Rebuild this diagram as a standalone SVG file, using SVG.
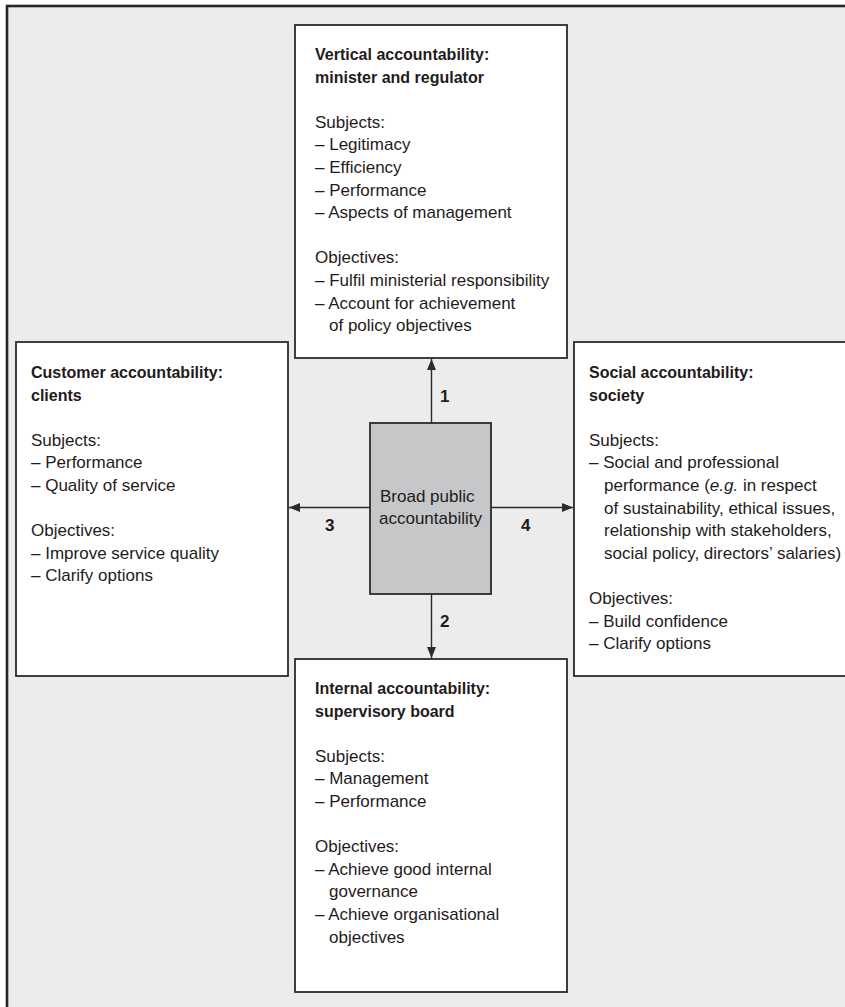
<svg xmlns="http://www.w3.org/2000/svg" width="845" height="1007" viewBox="0 0 845 1007">
<style>
.box{fill:#ffffff;stroke:#2b2b2b;stroke-width:1.8}
.core{fill:#c6c7c9;stroke:#2b2b2b;stroke-width:1.8}
.t{font-family:"Liberation Sans",Arial,sans-serif;font-size:17px;fill:#1f1b1c}
.b{font-family:"Liberation Sans",Arial,sans-serif;font-size:16px;font-weight:bold;fill:#1f1b1c}
.n{font-family:"Liberation Sans",Arial,sans-serif;font-size:17px;font-weight:bold;fill:#1f1b1c}
.c{stroke:#2b2b2b;stroke-width:1.4;fill:none;marker-end:url(#ah)}
</style>
<defs>
<marker id="ah" markerUnits="userSpaceOnUse" markerWidth="12" markerHeight="10" refX="11" refY="4.5" orient="auto">
<path d="M0,0 L11,4.5 L0,9 z" fill="#2b2b2b"/>
</marker>
</defs>
<rect x="0" y="0" width="845" height="1007" fill="#ffffff"/>
<rect x="7" y="6" width="850" height="1010" fill="#ececec" stroke="#262626" stroke-width="2.6"/>

<g id="top">
<rect class="box" x="295" y="25" width="272" height="333"/>
<text class="b" x="315" y="60">Vertical accountability:</text>
<text class="b" x="315" y="82.6">minister and regulator</text>
<text class="t" x="315" y="127.8">Subjects:</text>
<text class="t" x="315" y="150.4">– Legitimacy</text>
<text class="t" x="315" y="173">– Efficiency</text>
<text class="t" x="315" y="195.6">– Performance</text>
<text class="t" x="315" y="218.2">– Aspects of management</text>
<text class="t" x="315" y="263.4">Objectives:</text>
<text class="t" x="315" y="286">– Fulfil ministerial responsibility</text>
<text class="t" x="315" y="308.6">– Account for achievement</text>
<text class="t" x="329" y="331.2">of policy objectives</text>
</g>

<g id="left">
<rect class="box" x="16" y="342" width="272" height="334"/>
<text class="b" x="31" y="378">Customer accountability:</text>
<text class="b" x="31" y="400.6">clients</text>
<text class="t" x="31" y="445.8">Subjects:</text>
<text class="t" x="31" y="468.4">–  Performance</text>
<text class="t" x="31" y="491">– Quality of service</text>
<text class="t" x="31" y="536.2">Objectives:</text>
<text class="t" x="31" y="558.8">– Improve service quality</text>
<text class="t" x="31" y="581.4">– Clarify options</text>
</g>

<g id="right">
<rect class="box" x="574" y="342" width="290" height="334"/>
<text class="b" x="589" y="378">Social accountability:</text>
<text class="b" x="589" y="400.6">society</text>
<text class="t" x="589" y="445.8">Subjects:</text>
<text class="t" x="589" y="468.4">–  Social and professional</text>
<text class="t" x="604" y="491">performance (<tspan font-style="italic">e.g.</tspan> in respect</text>
<text class="t" x="604" y="513.6">of sustainability, ethical issues,</text>
<text class="t" x="604" y="536.2">relationship with stakeholders,</text>
<text class="t" x="604" y="558.8">social policy, directors’ salaries)</text>
<text class="t" x="589" y="604">Objectives:</text>
<text class="t" x="589" y="626.6">– Build confidence</text>
<text class="t" x="589" y="649.2">– Clarify options</text>
</g>

<g id="bottom">
<rect class="box" x="295" y="659" width="272" height="333"/>
<text class="b" x="315" y="694">Internal accountability:</text>
<text class="b" x="315" y="716.6">supervisory board</text>
<text class="t" x="315" y="761.8">Subjects:</text>
<text class="t" x="315" y="784.4">– Management</text>
<text class="t" x="315" y="807">– Performance</text>
<text class="t" x="315" y="852.2">Objectives:</text>
<text class="t" x="315" y="874.8">– Achieve good internal</text>
<text class="t" x="329" y="897.4">governance</text>
<text class="t" x="315" y="920">– Achieve organisational</text>
<text class="t" x="329" y="942.6">objectives</text>
</g>

<g id="center">
<rect class="core" x="370" y="423" width="121" height="171"/>
<text class="t" x="380" y="502">Broad public</text>
<text class="t" x="379" y="524">accountability</text>
</g>

<g id="connectors">
<line class="c" x1="431.5" y1="423" x2="431.5" y2="359"/>
<line class="c" x1="431.5" y1="594" x2="431.5" y2="658"/>
<line class="c" x1="370" y1="507.5" x2="289" y2="507.5"/>
<line class="c" x1="491" y1="507.5" x2="573" y2="507.5"/>
<text class="n" x="440" y="402">1</text>
<text class="n" x="440" y="627">2</text>
<text class="n" x="325" y="531">3</text>
<text class="n" x="521" y="531">4</text>
</g>
</svg>
